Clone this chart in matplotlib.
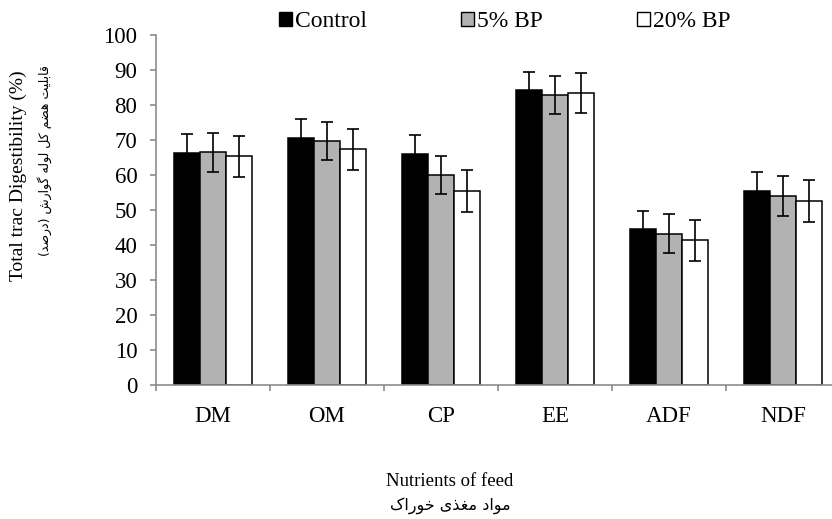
import numpy as np
import matplotlib
matplotlib.use("Agg")
import matplotlib.pyplot as plt
from matplotlib.patches import Patch

categories = ["DM", "OM", "CP", "EE", "ADF", "NDF"]
control = [66.2, 70.6, 66.1, 84.2, 44.5, 55.4]
bp5 = [66.5, 69.7, 60.0, 82.9, 43.2, 54.0]
bp20 = [65.3, 67.3, 55.3, 83.4, 41.3, 52.6]
err_control = [5.5, 5.3, 5.3, 5.3, 5.3, 5.4]
err_bp5 = [5.6, 5.4, 5.5, 5.5, 5.6, 5.6]
err_bp20 = [5.8, 5.9, 6.0, 5.8, 5.8, 6.0]
series_names = ["Control", "5% BP", "20% BP"]

ylabel_en = "Total trac Digestibility (%)"
ylabel_fa = "قابلیت هضم کل لوله گوارش (درصد)"
xlabel_en = "Nutrients of feed"
xlabel_fa = "مواد مغذی خوراک"

# presentation forms: isolated, final, initial, medial (None -> right-joining only)
FORMS = {
    "ا": ("\uFE8D", "\uFE8E", None, None),
    "ب": ("\uFE8F", "\uFE90", "\uFE91", "\uFE92"),
    "ت": ("\uFE95", "\uFE96", "\uFE97", "\uFE98"),
    "ل": ("\uFEDD", "\uFEDE", "\uFEDF", "\uFEE0"),
    "ق": ("\uFED5", "\uFED6", "\uFED7", "\uFED8"),
    "ی": ("\uFBFC", "\uFBFD", "\uFBFE", "\uFBFF"),
    "ه": ("\uFEE9", "\uFEEA", "\uFEEB", "\uFEEC"),
    "ض": ("\uFEBD", "\uFEBE", "\uFEBF", "\uFEC0"),
    "م": ("\uFEE1", "\uFEE2", "\uFEE3", "\uFEE4"),
    "ک": ("\uFB8E", "\uFB8F", "\uFB90", "\uFB91"),
    "و": ("\uFEED", "\uFEEE", None, None),
    "گ": ("\uFB92", "\uFB93", "\uFB94", "\uFB95"),
    "ر": ("\uFEAD", "\uFEAE", None, None),
    "ش": ("\uFEB5", "\uFEB6", "\uFEB7", "\uFEB8"),
    "د": ("\uFEA9", "\uFEAA", None, None),
    "ص": ("\uFEB9", "\uFEBA", "\uFEBB", "\uFEBC"),
    "غ": ("\uFECD", "\uFECE", "\uFECF", "\uFED0"),
    "ذ": ("\uFEAB", "\uFEAC", None, None),
    "خ": ("\uFEA5", "\uFEA6", "\uFEA7", "\uFEA8"),
}


def shape_fa(s):
    out = []
    for i, c in enumerate(s):
        if c not in FORMS:
            out.append({"(": ")", ")": "("}.get(c, c))
            continue
        prev = s[i - 1] if i > 0 else ""
        nxt = s[i + 1] if i + 1 < len(s) else ""
        dual = FORMS[c][2] is not None
        join_prev = prev in FORMS and FORMS[prev][2] is not None
        join_next = dual and nxt in FORMS
        if join_prev and join_next:
            out.append(FORMS[c][3])
        elif join_prev:
            out.append(FORMS[c][1])
        elif join_next:
            out.append(FORMS[c][2])
        else:
            out.append(FORMS[c][0])
    return "".join(reversed(out))


plt.rcParams["font.family"] = ["Liberation Serif", "DejaVu Serif"]
fa_font = ["DejaVu Sans"]

fig = plt.figure(figsize=(8.32, 5.19), dpi=100)
ax = fig.add_axes([156 / 832, 1 - 385 / 519, 684 / 832, 350 / 519])

x = np.arange(len(categories))
bw = 0.228
spine_col = "#8c8c8c"
ekw = dict(ecolor="black", elinewidth=1.2, capsize=4.5, capthick=1.2)
ax.bar(x - bw, control, bw, yerr=err_control, color="black", edgecolor="black",
       linewidth=1.1, error_kw=ekw, label=series_names[0])
ax.bar(x, bp5, bw, yerr=err_bp5, color="#b2b2b2", edgecolor="black",
       linewidth=1.1, error_kw=ekw, label=series_names[1])
ax.bar(x + bw, bp20, bw, yerr=err_bp20, color="white", edgecolor="black",
       linewidth=1.1, error_kw=ekw, label=series_names[2])

ax.set_xlim(-0.5, len(categories) - 0.5)
ax.set_ylim(0, 100)
ax.set_yticks(np.arange(0, 101, 10))
ax.set_xticks(x)
ax.set_xticklabels(categories)
ax.set_xticks(np.arange(-0.5, len(categories), 1), minor=True)
ax.tick_params(axis="x", which="major", length=0, pad=15, labelsize=16.5)
ax.tick_params(axis="x", which="minor", length=4, width=1.2, color=spine_col, direction="out")
ax.tick_params(axis="y", length=4.5, width=1.2, color=spine_col, pad=9, labelsize=16.5)

for side in ["top", "right"]:
    ax.spines[side].set_visible(False)
for side in ["left", "bottom"]:
    ax.spines[side].set_color(spine_col)
    ax.spines[side].set_linewidth(1.2)

handles = [Patch(facecolor=c, edgecolor="black", linewidth=1.0)
           for c in ["black", "#b2b2b2", "white"]]
fig.legend(handles, series_names, loc="center", bbox_to_anchor=(505 / 832, 1 - 22 / 519),
           ncol=3, frameon=False, fontsize=17, handlelength=0.55, handleheight=0.55,
           handletextpad=0.12, columnspacing=4.0, borderaxespad=0)

fig.text(18 / 832, 1 - 176 / 519, ylabel_en, rotation=90, ha="center", va="center", fontsize=14)
fig.text(45 / 832, 1 - 161 / 519, shape_fa(ylabel_fa), rotation=90, ha="center", va="center",
         fontsize=9, family=fa_font)
fig.text(450 / 832, 1 - 482 / 519, xlabel_en, ha="center", va="center", fontsize=13.5)
fig.text(450 / 832, 1 - 506 / 519, shape_fa(xlabel_fa), ha="center", va="center",
         fontsize=11.5, family=fa_font)

fig.savefig("out.png", dpi=100)
